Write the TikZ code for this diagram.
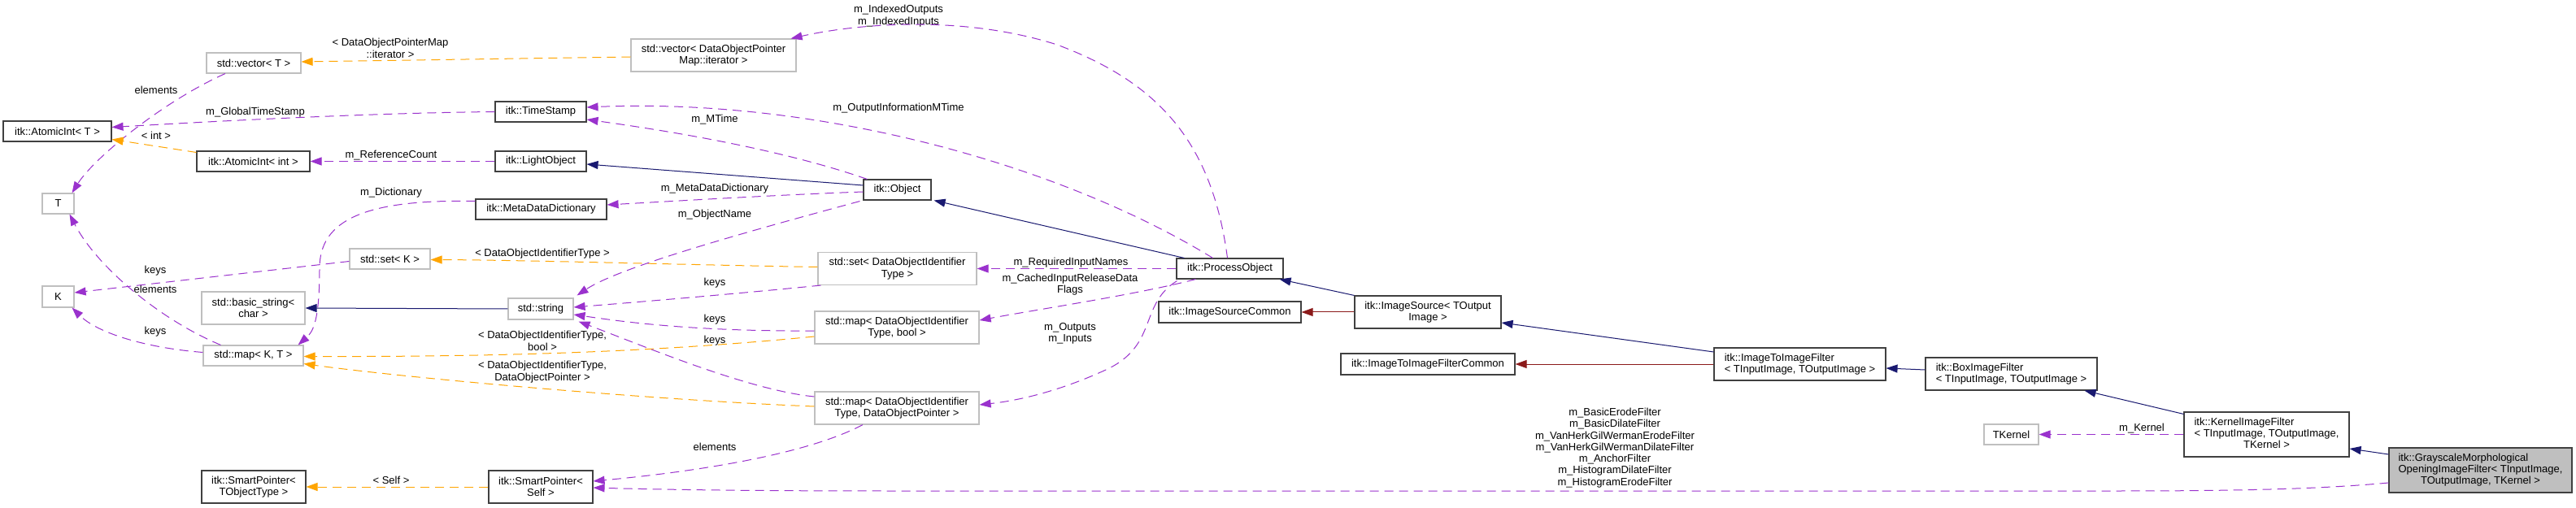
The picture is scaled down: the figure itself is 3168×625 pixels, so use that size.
\documentclass[tikz,border=0pt]{standalone}
\usepackage{fontspec}
\setmainfont{Liberation Sans}
\usetikzlibrary{arrows.meta,calc}
\definecolor{epurple}{HTML}{9A32CD}
\definecolor{eorange}{HTML}{FFA500}
\definecolor{eblue}{HTML}{191970}
\definecolor{ered}{HTML}{8B1A1A}
\definecolor{boxgray}{HTML}{BFBFBF}
\definecolor{boxdark}{HTML}{404040}
\newcommand{\dgfont}{\fontsize{6.5}{7.15}\selectfont}
\tikzset{
  sz/.style 2 args={minimum width=#1*0.5pt, minimum height=#2*0.5pt},
  cls/.style={draw=boxdark, line width=0.55pt, fill=white, rectangle, inner sep=0pt, font=\dgfont},
  ext/.style={draw=boxgray, line width=0.55pt, fill=white, rectangle, inner sep=0pt, font=\dgfont},
  lbl/.style={inner sep=0pt, font=\dgfont},
  tipa/.style={-{Triangle[length=7pt,width=5pt]}},
  pe/.style={draw=epurple, line width=0.5pt, dash pattern=on 5.5pt off 3.5pt, tipa},
  oe/.style={draw=eorange, line width=0.5pt, dash pattern=on 5.5pt off 3.5pt, tipa},
  be/.style={draw=eblue, line width=0.5pt, tipa},
  re/.style={draw=ered, line width=0.5pt, tipa},
}
\begin{document}
\begin{tikzpicture}[x=0.5pt,y=-0.5pt]
\fill[white] (0,0) rectangle (3168,625);
\useasboundingbox (0,0) rectangle (3168,625);

% ---------- nodes ----------
\node[cls, sz={133}{25}] (atT) at (70.5,161.5) {itk::AtomicInt< T >};
\node[ext, sz={116}{25}] (vecT) at (312,77.5) {std::vector< T >};
\node[ext, sz={39}{25}] (T) at (71.5,250.5) {T};
\node[cls, sz={139}{25}] (atInt) at (311.5,198.5) {itk::AtomicInt< int >};
\node[ext, sz={99}{25}] (setK) at (479.5,318.5) {std::set< K >};
\node[ext, sz={39}{26}] (K) at (71.5,365) {K};
\node[ext, sz={127}{40}, align=center] (bstr) at (311.5,379) {std::basic\_string<\\char >};
\node[ext, sz={123}{25}] (mapKT) at (311.5,437.5) {std::map< K, T >};
\node[cls, sz={128}{40}, align=center] (spTO) at (312,599) {itk::SmartPointer<\\TObjectType >};
\node[ext, sz={203}{40}, align=center] (vecDOPM) at (877.5,68) {std::vector< DataObjectPointer\\Map::iterator >};
\node[cls, sz={112}{25}] (ts) at (665,137.5) {itk::TimeStamp};
\node[cls, sz={112}{25}] (lo) at (665,198.5) {itk::LightObject};
\node[cls, sz={161}{25}] (mdd) at (665.5,257.5) {itk::MetaDataDictionary};
\node[cls, sz={83}{25}] (obj) at (1103.5,233.5) {itk::Object};
\node[ext, sz={80}{26}] (str) at (665,380) {std::string};
\node[ext, sz={195}{40}, align=center] (setD) at (1103.5,330.5) {std::set< DataObjectIdentifier\\Type >};
\node[ext, sz={202}{40}, align=center] (mapB) at (1103,403) {std::map< DataObjectIdentifier\\Type, bool >};
\node[ext, sz={202}{40}, align=center] (mapP) at (1103,502) {std::map< DataObjectIdentifier\\Type, DataObjectPointer >};
\node[cls, sz={128}{40}, align=center] (spS) at (665,599) {itk::SmartPointer<\\Self >};
\node[cls, sz={131}{25}] (po) at (1512.5,330.5) {itk::ProcessObject};
\node[cls, sz={175}{26}] (isc) at (1512.5,384) {itk::ImageSourceCommon};
\node[cls, sz={180}{40}, align=center] (is) at (1756,384) {itk::ImageSource< TOutput\\Image >};
\node[cls, sz={214}{26}] (iifc) at (1756,448) {itk::ImageToImageFilterCommon};
\node[cls, sz={211}{40}, align=left] (iif) at (2213.5,448) {itk::ImageToImageFilter\\< TInputImage, TOutputImage >};
\node[cls, sz={211}{40}, align=left] (box) at (2473.5,460) {itk::BoxImageFilter\\< TInputImage, TOutputImage >};
\node[ext, sz={67}{25}] (tk) at (2473.5,534.5) {TKernel};
\node[cls, sz={203}{55}] (kif) at (2787.5,534.5) {\begin{tabular}{@{}l@{}}itk::KernelImageFilter\\< TInputImage, TOutputImage,\\\multicolumn{1}{@{}c@{}}{TKernel >}\end{tabular}};
\node[cls, sz={225}{55}, fill=boxgray] (gm) at (3050.5,578.5) {\begin{tabular}{@{}l@{}}itk::GrayscaleMorphological\\OpeningImageFilter< TInputImage,\\\multicolumn{1}{@{}c@{}}{TOutputImage, TKernel >}\end{tabular}};

% ---------- labels ----------
\node[lbl] (l_el1) at (192,111) {elements};
\node[lbl] (l_gts) at (314,138) {m\_GlobalTimeStamp};
\node[lbl] (l_int) at (192,167) {< int >};
\node[lbl] (l_rc) at (481,191) {m\_ReferenceCount};
\node[lbl] (l_dict) at (481,237) {m\_Dictionary};
\node[lbl] (l_k1) at (191,333) {keys};
\node[lbl] (l_el2) at (191,356) {elements};
\node[lbl] (l_k2) at (191,408) {keys};
\node[lbl] (l_self) at (481,591) {< Self >};
\node[lbl, align=center] (l_dopm) at (480,59.5) {< DataObjectPointerMap\\::iterator >};
\node[lbl, align=center] (l_idx) at (1105,19.5) {m\_IndexedOutputs\\m\_IndexedInputs};
\node[lbl] (l_oimt) at (1105,133) {m\_OutputInformationMTime};
\node[lbl] (l_mt) at (879,147) {m\_MTime};
\node[lbl] (l_mdd) at (879,232) {m\_MetaDataDictionary};
\node[lbl] (l_on) at (879,264) {m\_ObjectName};
\node[lbl] (l_doit) at (667,312) {< DataObjectIdentifierType >};
\node[lbl] (l_k3) at (879,348) {keys};
\node[lbl] (l_k4) at (879,393) {keys};
\node[lbl] (l_k5) at (879,419) {keys};
\node[lbl, align=center] (l_bool) at (667,419.5) {< DataObjectIdentifierType,\\bool >};
\node[lbl, align=center] (l_dop) at (667,457.5) {< DataObjectIdentifierType,\\DataObjectPointer >};
\node[lbl] (l_el3) at (879,550) {elements};
\node[lbl] (l_rin) at (1317,323) {m\_RequiredInputNames};
\node[lbl, align=center] (l_cir) at (1316,350) {m\_CachedInputReleaseData\\Flags};
\node[lbl, align=center] (l_oi) at (1316,410) {m\_Outputs\\m\_Inputs};
\node[lbl, align=center] (l_filters) at (1986,551) {m\_BasicErodeFilter\\m\_BasicDilateFilter\\m\_VanHerkGilWermanErodeFilter\\m\_VanHerkGilWermanDilateFilter\\m\_AnchorFilter\\m\_HistogramDilateFilter\\m\_HistogramErodeFilter};
\node[lbl] (l_kern) at (2634,527) {m\_Kernel};

% ---------- edges ----------
\draw[pe] ($(vecT.south)+(-35,0)$) .. controls (200,125) and (115,195) .. ($(T.north east)+(-3,0)$);
\draw[pe] (ts.west) .. controls (450,139) and (250,150) .. ($(atT.east)+(0,-5)$);
\draw[oe] ($(atInt.west)+(0,-11)$) -- ($(atT.east)+(0,10)$);
\draw[pe] (lo.west) -- (atInt.east);
\draw[pe] ($(mdd.west)+(0,-10)$) .. controls (450,245) and (393,270) .. (393,330) .. controls (393,395) and (385,408) .. ($(mapKT.north east)+(-7,0)$);
\draw[pe] ($(setK.west)+(0,3)$) -- ($(K.east)+(0,-5)$);
\draw[pe] ($(mapKT.west)+(0,-4)$) .. controls (180,428) and (120,410) .. ($(K.south east)+(-3,0)$);
\draw[pe] ($(mapKT.north)+(-40,0)$) .. controls (200,395) and (120,330) .. ($(T.south)+(14,0)$);
\draw[oe] ($(setD.west)+(0,-2)$) .. controls (850,326) and (650,320) .. ($(setK.east)+(0,1)$);
\draw[oe] ($(mapB.west)+(0,11)$) .. controls (800,434) and (600,439) .. ($(mapKT.east)+(0,1)$);
\draw[oe] ($(mapP.west)+(0,-2)$) .. controls (800,492) and (500,465) .. ($(mapKT.east)+(0,10)$);
\draw[oe] ($(vecDOPM.west)+(0,2)$) -- ($(vecT.east)+(0,-1.5)$);
\draw[be] (str.west) -- (bstr.east);
\draw[pe] ($(obj.south west)+(-4,1)$) .. controls (900,290) and (760,330) .. ($(str.north east)+(4,-3)$);
\draw[pe] ($(setD.south west)+(4,0)$) .. controls (900,362) and (780,372) .. ($(str.east)+(0,-2)$);
\draw[pe] ($(mapB.west)+(0,4)$) .. controls (850,408) and (760,395) .. ($(str.east)+(0,7)$);
\draw[pe] ($(mapP.west)+(0,-14)$) .. controls (920,480) and (790,425) .. ($(str.south east)+(6,2)$);
\draw[pe] ($(mapP.south)+(-42,0)$) .. controls (1000,555) and (880,578) .. ($(spS.east)+(0,-7)$);
\draw[oe] (spS.west) -- (spTO.east);
\draw[pe] ($(gm.west)+(0,15.5)$) .. controls (2850,602) and (2750,604) .. (2600,604) -- (1100,604) .. controls (900,604) and (800,602) .. ($(spS.east)+(0,1)$);
\draw[be] ($(obj.west)+(0,-5.5)$) -- ($(lo.east)+(0,3.5)$);
\draw[pe] ($(obj.north west)+(5,0)$) .. controls (950,180) and (800,158) .. ($(ts.east)+(0,9.5)$);
\draw[pe] ($(obj.west)+(0,2.5)$) .. controls (950,240) and (820,248) .. ($(mdd.east)+(0,-5.5)$);
\draw[be] ($(po.north west)+(10,0)$) -- ($(obj.south east)+(3,0)$);
\draw[pe] ($(po.north)+(-21,0)$) .. controls (1300,200) and (1000,120) .. ($(ts.east)+(0,-5.5)$);
\draw[pe] ($(po.north)+(-3,0)$) .. controls (1490,170) and (1420,100) .. (1300,55) .. controls (1180,17) and (1050,30) .. ($(vecDOPM.north east)+(-7,0)$);
\draw[pe] (po.west) -- (setD.east);
\draw[pe] ($(po.south west)+(24,0)$) .. controls (1400,362) and (1280,380) .. ($(mapB.east)+(0,-9)$);
\draw[pe] ($(po.south west)+(1,2)$) .. controls (1400,375) and (1425,425) .. (1360,455) .. controls (1310,478) and (1260,492) .. ($(mapP.east)+(0,-4)$);
\draw[be] (is.north west) -- ($(po.south east)+(-5,0)$);
\draw[re] (is.west) -- (isc.east);
\draw[be] ($(iif.west)+(0,-15)$) -- ($(is.east)+(0,13)$);
\draw[re] (iif.west) -- (iifc.east);
\draw[be] ($(box.west)+(0,-5)$) -- ($(iif.east)+(0,5)$);
\draw[be] ($(kif.north west)+(0,3)$) -- ($(box.south)+(90,0)$);
\draw[pe] (kif.west) -- (tk.east);
\draw[be] ($(gm.west)+(0,-19.5)$) -- ($(kif.east)+(0,17.5)$);
\end{tikzpicture}
\end{document}
